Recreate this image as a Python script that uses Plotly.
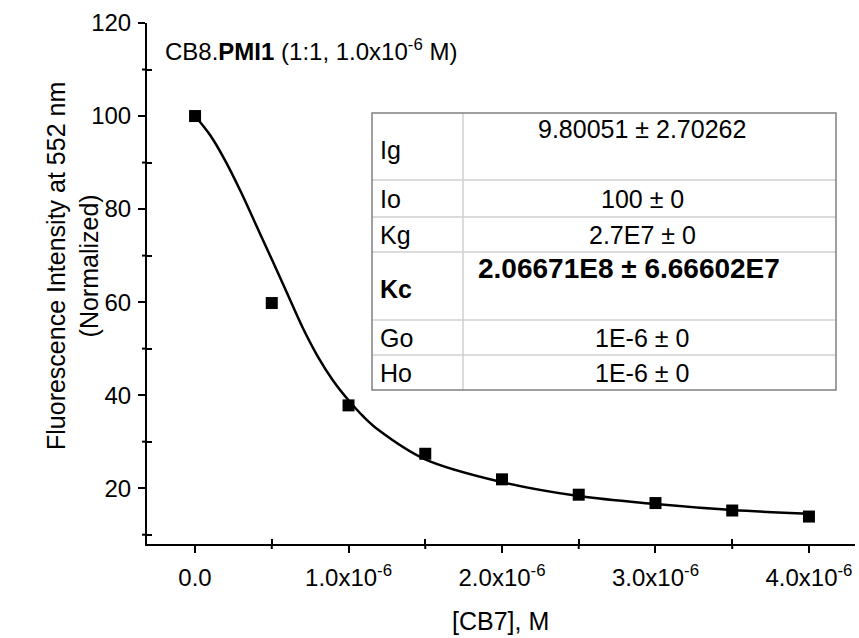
import plotly.graph_objects as go

# ---- data ----
conc = [0.0, 0.5e-6, 1.0e-6, 1.5e-6, 2.0e-6, 2.5e-6, 3.0e-6, 3.5e-6, 4.0e-6]
intensity = [100.0, 59.8, 37.8, 27.4, 21.9, 18.6, 16.8, 15.2, 13.9]

fit_x = [0.0, 0.1e-6, 0.2e-6, 0.3e-6, 0.4e-6, 0.5e-6, 0.6e-6, 0.7e-6, 0.8e-6,
         0.9e-6, 1.0e-6, 1.1e-6, 1.2e-6, 1.5e-6, 2.0e-6, 2.5e-6, 3.0e-6, 3.5e-6, 4.0e-6]
fit_y = [100.0, 95.8, 90.2, 83.6, 76.4, 69.2, 61.9, 54.6, 48.3,
         43.1, 38.9, 35.3, 32.4, 26.2, 21.3, 18.3, 16.6, 15.3, 14.5]

x_tickvals = [0.0, 1.0e-6, 2.0e-6, 3.0e-6, 4.0e-6]
x_ticktext = ["0.0", "1.0x10<sup>-6</sup>", "2.0x10<sup>-6</sup>",
              "3.0x10<sup>-6</sup>", "4.0x10<sup>-6</sup>"]
x_minor = [0.5e-6, 1.5e-6, 2.5e-6, 3.5e-6]
y_tickvals = [20, 40, 60, 80, 100, 120]
y_minor = [10, 30, 50, 70, 90, 110]

table_params = ["Ig", "Io", "Kg", "<b>Kc</b>", "Go", "Ho"]
table_values = ["9.80051 ± 2.70262", "100 ± 0", "2.7E7 ± 0",
                "<b>2.06671E8 ± 6.66602E7</b>", "1E-6 ± 0", "1E-6 ± 0"]

# ---- layout geometry (pixels) ----
W, H = 859, 638
L, R, T, B = 147, 855, 23, 544  # plot area edges in pixels


def px(xp):
    return (xp - L) / (R - L)


def py(yp):
    return (B - yp) / (B - T)


FONT = "Liberation Sans, Arial, sans-serif"

fig = go.Figure()
fig.add_trace(go.Scatter(x=fit_x, y=fit_y, mode="lines",
                         line=dict(color="black", width=2.5, shape="spline", smoothing=1.0),
                         hoverinfo="skip", showlegend=False))
fig.add_trace(go.Scatter(x=conc, y=intensity, mode="markers",
                         marker=dict(symbol="square", size=12, color="black"),
                         showlegend=False))

shapes = []
# outer halves of the crossing minor ticks
for xv in x_minor:
    shapes.append(dict(type="line", xref="x", yref="paper", x0=xv, x1=xv,
                       y0=0, y1=-5 / (B - T), line=dict(color="black", width=2)))
for yv in y_minor:
    shapes.append(dict(type="line", xref="paper", yref="y", y0=yv, y1=yv,
                       x0=0, x1=-5 / (R - L), line=dict(color="black", width=2)))

# ---- table (shapes + annotations) ----
tab_left, tab_right, tab_col = 372, 836, 463
row_edges = [113, 180, 217, 252, 320, 355, 390]
for yb in row_edges[1:-1]:
    shapes.append(dict(type="line", xref="paper", yref="paper",
                       x0=px(tab_left), x1=px(tab_right), y0=py(yb), y1=py(yb),
                       line=dict(color="#d0d0d0", width=1.5)))
shapes.append(dict(type="line", xref="paper", yref="paper",
                   x0=px(tab_col), x1=px(tab_col), y0=py(row_edges[0]), y1=py(row_edges[-1]),
                   line=dict(color="#d0d0d0", width=1.5)))
shapes.append(dict(type="rect", xref="paper", yref="paper",
                   x0=px(tab_left), x1=px(tab_right), y0=py(row_edges[-1]), y1=py(row_edges[0]),
                   line=dict(color="#808080", width=1.5), fillcolor="rgba(0,0,0,0)"))

annotations = []
for i, (p, v) in enumerate(zip(table_params, table_values)):
    top, bot = row_edges[i], row_edges[i + 1]
    tall = (bot - top) > 50
    label_y = (top + bot) / 2 + (3 if tall else 0)
    value_y = top + 16 if tall else (top + bot) / 2
    bold = v.startswith("<b>")
    annotations.append(dict(x=px(tab_left + 6), y=py(label_y), xref="paper", yref="paper",
                            text=p, showarrow=False, xanchor="left", yanchor="middle",
                            font=dict(family=FONT, size=25, color="black")))
    annotations.append(dict(x=px(629 if bold else 642), y=py(value_y), xref="paper", yref="paper",
                            text=v, showarrow=False, xanchor="center", yanchor="middle",
                            font=dict(family=FONT, size=28 if bold else 25, color="black")))

annotations.append(dict(x=px(163), y=py(50), xref="paper", yref="paper",
                        text="CB8.<b>PMI1</b> (1:1, 1.0x10<sup>-6</sup> M)",
                        showarrow=False, xanchor="left", yanchor="middle",
                        font=dict(family=FONT, size=24, color="black")))
annotations.append(dict(x=px(72), y=py(266), xref="paper", yref="paper",
                        text="Fluorescence Intensity at 552 nm<br>(Normalized)",
                        textangle=-90, showarrow=False, xanchor="center", yanchor="middle",
                        font=dict(family=FONT, size=25, color="black")))
annotations.append(dict(x=px(500), y=py(621), xref="paper", yref="paper",
                        text="[CB7], M", showarrow=False, xanchor="center", yanchor="middle",
                        font=dict(family=FONT, size=25, color="black")))

fig.update_layout(
    width=W, height=H,
    margin=dict(l=L, r=W - R, t=T, b=H - B),
    paper_bgcolor="white", plot_bgcolor="white",
    font=dict(family=FONT, size=24, color="black"),
    shapes=shapes, annotations=annotations,
    showlegend=False,
)
fig.update_xaxes(range=[-0.313e-6, 4.3e-6], showgrid=False, zeroline=False,
                 showline=True, linecolor="black", linewidth=2,
                 ticks="outside", ticklen=7, tickwidth=2, tickcolor="black",
                 tickvals=x_tickvals, ticktext=x_ticktext, ticklabelstandoff=4,
                 tickfont=dict(family=FONT, size=24, color="black"),
                 minor=dict(tickvals=x_minor, ticks="inside",
                            ticklen=5, tickwidth=2, tickcolor="black"))
fig.update_yaxes(range=[8, 120], showgrid=False, zeroline=False,
                 showline=True, linecolor="black", linewidth=2,
                 ticks="outside", ticklen=7, tickwidth=2, tickcolor="black",
                 tickvals=y_tickvals, ticklabelstandoff=2,
                 tickfont=dict(family=FONT, size=24, color="black"),
                 minor=dict(tickvals=y_minor, ticks="inside",
                            ticklen=5, tickwidth=2, tickcolor="black"))

fig.write_html("out.html", post_script="document.body.style.margin='0';",
               config={"displayModeBar": False})
